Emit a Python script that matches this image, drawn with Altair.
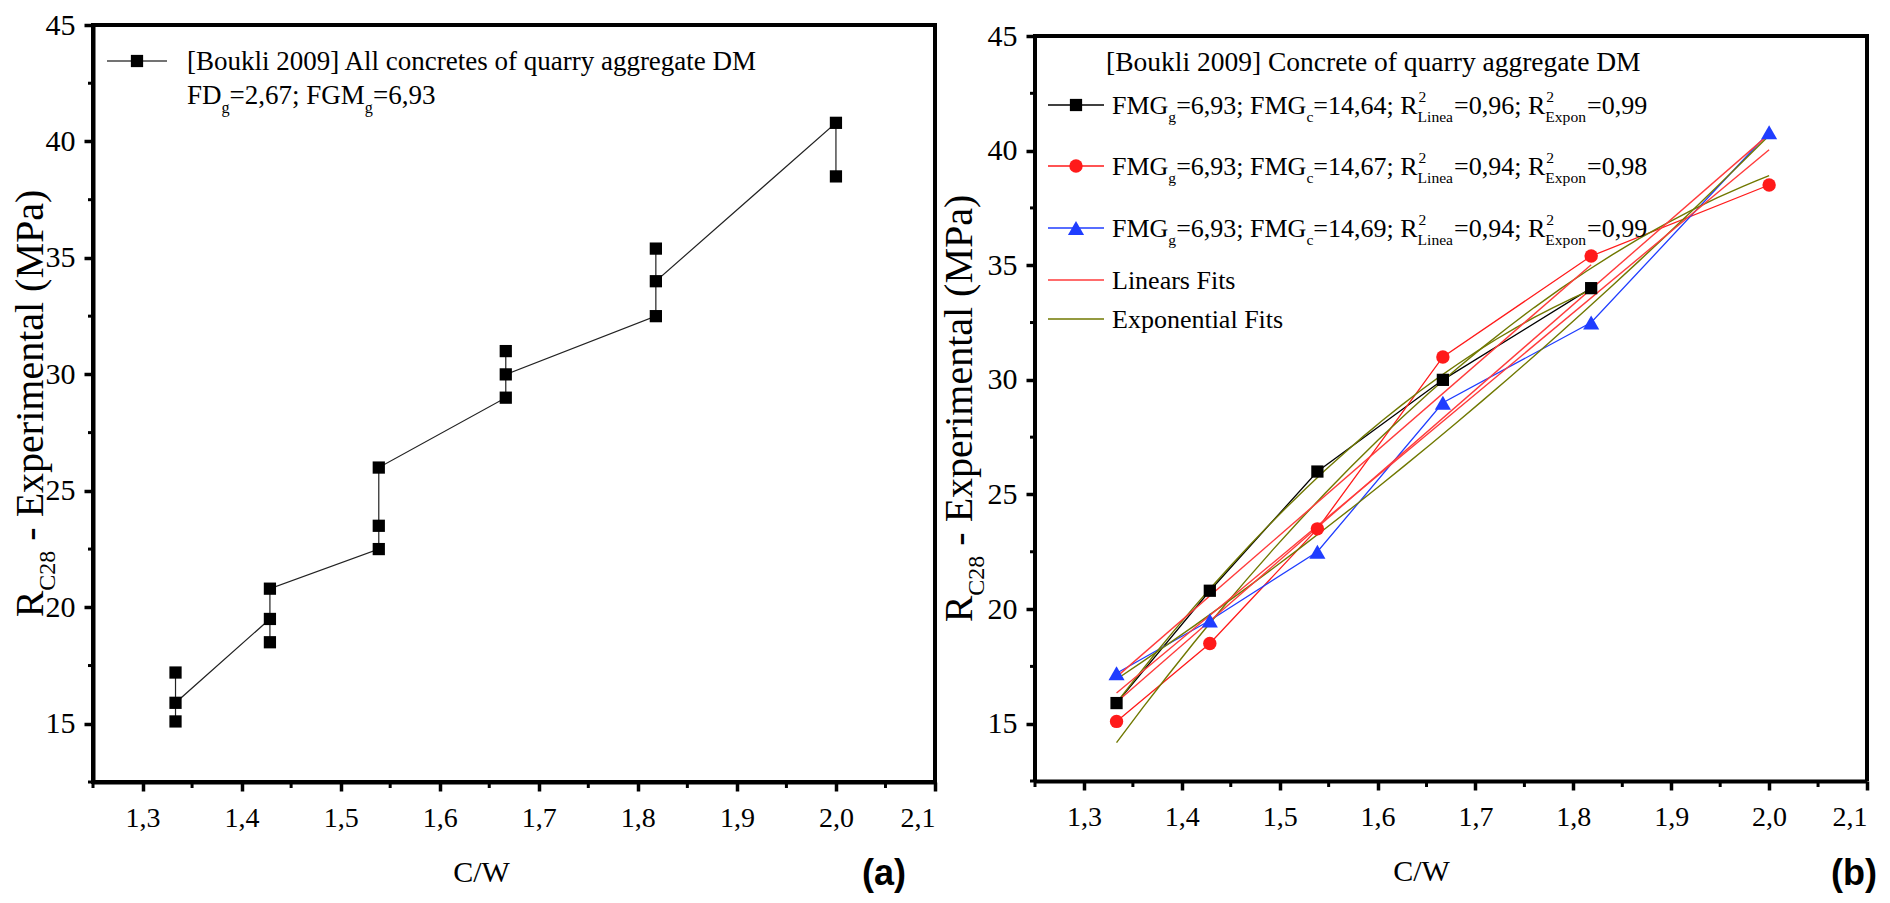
import altair as alt
import pandas as pd

# ---------------- data ----------------
CW = [1.3333, 1.4286, 1.5385, 1.6667, 1.8182, 2.0]
BLACK_Y = [15.9, 20.8, 26.0, 30.0, 34.0]
RED_Y = [15.1, 18.5, 23.5, 31.0, 35.4, 38.5]
BLUE_Y = [17.2, 19.5, 22.5, 29.0, 32.5, 40.8]

LEFT_X = [CW[0]] * 3 + [CW[1]] * 3 + [CW[2]] * 3 + [CW[3]] * 3 + [CW[4]] * 3 + [CW[5]] * 2
LEFT_Y = [15.1, 17.2, 15.9, 19.5, 18.5, 20.8, 22.5, 23.5, 26.0,
          29.0, 31.0, 30.0, 32.5, 35.4, 34.0, 40.8, 38.5]

X_TICKS = [1.3, 1.4, 1.5, 1.6, 1.7, 1.8, 1.9, 2.0, 2.1]
X_MINOR = [1.25, 1.35, 1.45, 1.55, 1.65, 1.75, 1.85, 1.95, 2.05]
Y_TICKS = [15, 20, 25, 30, 35, 40, 45]
Y_MINOR = [12.5, 17.5, 22.5, 27.5, 32.5, 37.5, 42.5]

LEFT_LEGEND_1 = "[Boukli 2009] All concretes of quarry aggregate DM"
LEFT_LEGEND_2 = [("n", "FD"), ("sub", "g"), ("n", "=2,67;"), ("gap", " "),
                 ("n", "FGM"), ("sub", "g"), ("n", "=6,93")]
RIGHT_TITLE = "[Boukli 2009] Concrete of quarry aggregate DM"
FMG_G = ["6,93", "6,93", "6,93"]
FMG_C = ["14,64", "14,67", "14,69"]
R2_LIN = ["0,96", "0,94", "0,94"]
R2_EXP = ["0,99", "0,98", "0,99"]
FIT_LABELS = ["Linears Fits", "Exponential Fits"]

RED = "#ff1a1a"
BLUE = "#1f3dff"
LINRED = "#ff3b3b"
OLIVE = "#707800"

# ---------------- text helpers (Times metrics) ----------------
TW = {' ': 250, '(': 333, ')': 333, ',': 250, '-': 333, '.': 250, '/': 278, ';': 278,
      '=': 564, '[': 333, ']': 333,
      'A': 722, 'B': 667, 'C': 667, 'D': 722, 'E': 611, 'F': 556, 'G': 722, 'L': 611,
      'M': 889, 'P': 556, 'R': 667, 'W': 944,
      'a': 444, 'c': 444, 'e': 444, 'f': 333, 'g': 500, 'i': 278, 'k': 500, 'l': 278,
      'm': 778, 'n': 500, 'o': 500, 'p': 500, 'q': 500, 'r': 333, 's': 389, 't': 278,
      'u': 500, 'x': 500, 'y': 500}


def tw(s, fs):
    return sum(TW.get(ch, 500) for ch in s) * fs / 1000.0


def rich_rows(pieces, x0, yc, fs):
    rows = []
    x = x0
    base = yc + 0.33 * fs
    sf = 0.6 * fs
    for kind, val in pieces:
        if kind == "n":
            rows.append({"px": x, "py": base, "t": val, "fs": fs})
            x += tw(val, fs)
        elif kind == "gap":
            x += tw(val, fs)
        elif kind == "sub":
            rows.append({"px": x, "py": base + 0.32 * fs, "t": val, "fs": sf})
            x += tw(val, sf)
        elif kind == "ss":
            sup, sub = val
            rows.append({"px": x + 1, "py": base - 0.45 * fs, "t": sup, "fs": sf})
            rows.append({"px": x, "py": base + 0.32 * fs, "t": sub, "fs": sf})
            x += max(tw(sup, sf), tw(sub, sf)) + 1
    return rows


def text_layer(rows, angle=None):
    kw = dict(align="left", baseline="alphabetic", font="Liberation Serif", color="black")
    if angle is not None:
        kw["angle"] = angle
    return alt.Chart(pd.DataFrame(rows)).mark_text(**kw).encode(
        x=alt.X("px:Q", scale=None),
        y=alt.Y("py:Q", scale=None),
        text="t:N",
        size=alt.Size("fs:Q", scale=None, legend=None),
    )


def ytitle_rows(bx, yc, S=40):
    sf = 0.6 * S
    L = tw("R", S) + tw("C28", sf) + tw(" ", S) + tw("- Experimental (MPa)", S)
    y0 = yc + L / 2
    rows = [{"px": bx, "py": y0, "t": "R", "fs": S}]
    y = y0 - tw("R", S)
    rows.append({"px": bx + 0.3 * S, "py": y, "t": "C28", "fs": sf})
    y -= tw("C28", sf) + tw(" ", S)
    rows.append({"px": bx, "py": y, "t": "- Experimental (MPa)", "fs": S})
    return rows


DUMMY = pd.DataFrame({"a": [0]})


def seg(x1, x2, y, color, w=1.5):
    return alt.Chart(DUMMY).mark_rule(color=color, strokeWidth=w).encode(
        x=alt.value(x1), x2=alt.value(x2), y=alt.value(y))


def vseg(x, y1, y2, color, w=4):
    return alt.Chart(DUMMY).mark_rule(color=color, strokeWidth=w).encode(
        x=alt.value(x), y=alt.value(y1), y2=alt.value(y2))


def sym(x, y, shape, color, size):
    return alt.Chart(DUMMY).mark_point(shape=shape, filled=True, size=size, color=color,
                                       opacity=1).encode(x=alt.value(x), y=alt.value(y))


xs = alt.Scale(domain=[1.25, 2.1], nice=False, zero=False)


def x_axis(title_x):
    return alt.Axis(values=X_TICKS, labelExpr="replace(format(datum.value, '.1f'), '.', ',')",
                    labelFontSize=28, labelPadding=13, tickSize=9,
                    title="C/W", titleFontSize=30, titleX=title_x, titleY=90,
                    titleBaseline="middle", titleAlign="center")


def y_axis(domain=True):
    return alt.Axis(values=Y_TICKS, format="d", labelFontSize=30, labelPadding=9, tickSize=9,
                    title=None, domain=domain)


def minor_layers(H, xax, ysc, yax):
    mx = alt.Chart(pd.DataFrame({"v": X_MINOR})).mark_rule(color="black", strokeWidth=3).encode(
        x=alt.X("v:Q", scale=xs, axis=xax), y=alt.value(H), y2=alt.value(H + 6))
    my = alt.Chart(pd.DataFrame({"v": Y_MINOR})).mark_rule(color="black", strokeWidth=3).encode(
        y=alt.Y("v:Q", scale=ysc, axis=yax), x=alt.value(0), x2=alt.value(-5))
    return [mx, my]


# ---------------- left panel ----------------
WL, HL = 842, 757
ys_l = alt.Scale(domain=[12.5, 45], nice=False, zero=False)
XAX_L = x_axis(388)
YAX_L = y_axis()
left_df = pd.DataFrame({"x": LEFT_X, "y": LEFT_Y, "o": list(range(len(LEFT_X)))})

left_line = alt.Chart(left_df).mark_line(color="#222222", strokeWidth=1.2).encode(
    x=alt.X("x:Q", scale=xs, axis=XAX_L),
    y=alt.Y("y:Q", scale=ys_l, axis=YAX_L),
    order="o:Q")
left_pts = alt.Chart(left_df).mark_point(shape="square", filled=True, size=150, color="black",
                                         opacity=1).encode(
    x=alt.X("x:Q", scale=xs, axis=XAX_L),
    y=alt.Y("y:Q", scale=ys_l, axis=YAX_L))

left_text_rows = [{"px": 94, "py": 36 + 0.33 * 27, "t": LEFT_LEGEND_1, "fs": 27}]
left_text_rows += rich_rows(LEFT_LEGEND_2, 94, 70, 27)

left_label = alt.Chart(DUMMY).mark_text(text="(a)", font="Liberation Sans", fontWeight="bold",
                                        fontSize=36, color="black", align="center",
                                        baseline="middle").encode(
    x=alt.value(791), y=alt.value(849))

left = alt.layer(
    left_line, left_pts,
    *minor_layers(HL, XAX_L, ys_l, YAX_L),
    seg(14, 74, 36, "#444444"), sym(44, 36, "square", "black", 150),
    text_layer(left_text_rows),
    text_layer(ytitle_rows(-50, HL / 2), angle=270),
    left_label,
).properties(width=WL, height=HL)

# ---------------- right panel ----------------
# frame starts 11 px lower than the left one; the scale keeps 45 at that frame top
OFF = 11
WR, HR = 832, 756
ys_r = alt.Scale(domain=[12.5, 45 + OFF * 32.5 / (HR - OFF)], nice=False, zero=False)
XAX_R = x_axis(386)
YAX_R = y_axis(domain=False)
blk = pd.DataFrame({"x": CW[:5], "y": BLACK_Y, "s": "k"})
red = pd.DataFrame({"x": CW, "y": RED_Y, "s": "r"})
blu = pd.DataFrame({"x": CW, "y": BLUE_Y, "s": "b"})
allr = pd.concat([blk, red, blu], ignore_index=True)

XR = alt.X("x:Q", scale=xs, axis=XAX_R)
YR = alt.Y("y:Q", scale=ys_r, axis=YAX_R)

lin_fit = alt.Chart(allr).transform_regression("x", "y", groupby=["s"], method="linear").mark_line(
    color=LINRED, strokeWidth=1.4).encode(x=XR, y=YR, detail="s:N")
exp_fit = alt.Chart(allr).transform_regression("x", "y", groupby=["s"], method="poly", order=2).mark_line(
    color=OLIVE, strokeWidth=1.4).encode(x=XR, y=YR, detail="s:N")


def series(df, color, shape, size):
    ln = alt.Chart(df).mark_line(color=color, strokeWidth=1.3).encode(x=XR, y=YR)
    pt = alt.Chart(df).mark_point(shape=shape, filled=True, size=size, color=color, opacity=1).encode(x=XR, y=YR)
    return ln, pt


bl, bp = series(blk, "black", "square", 150)
rl, rp = series(red, RED, "circle", 180)
ul, up = series(blu, BLUE, "triangle-up", 260)

ROW_Y = [v + OFF for v in [69, 130, 192, 244, 283]]
right_text_rows = [{"px": 71, "py": 26 + OFF + 0.33 * 27.5, "t": RIGHT_TITLE, "fs": 27.5}]
for i in range(3):
    pieces = [("n", "FMG"), ("sub", "g"), ("n", "=" + FMG_G[i] + ";"), ("gap", " "),
              ("n", "FMG"), ("sub", "c"), ("n", "=" + FMG_C[i] + ";"), ("gap", " "),
              ("n", "R"), ("ss", ("2", "Linea")), ("n", "=" + R2_LIN[i] + ";"), ("gap", " "),
              ("n", "R"), ("ss", ("2", "Expon")), ("n", "=" + R2_EXP[i])]
    right_text_rows += rich_rows(pieces, 77, ROW_Y[i], 26)
for j, lab in enumerate(FIT_LABELS):
    right_text_rows.append({"px": 77, "py": ROW_Y[3 + j] + 0.33 * 26, "t": lab, "fs": 26})

legend_right = [
    seg(13, 69, ROW_Y[0], "black"), sym(41, ROW_Y[0], "square", "black", 150),
    seg(13, 69, ROW_Y[1], RED), sym(41, ROW_Y[1], "circle", RED, 180),
    seg(13, 69, ROW_Y[2], BLUE), sym(41, ROW_Y[2], "triangle-up", BLUE, 260),
    seg(13, 69, ROW_Y[3], LINRED), seg(13, 69, ROW_Y[4], OLIVE),
]

frame_right = [
    seg(-2, WR + 2, OFF, "black", 4),
    vseg(0, OFF, HR, "black"),
    vseg(WR, OFF, HR, "black"),
]

right_label = alt.Chart(DUMMY).mark_text(text="(b)", font="Liberation Sans", fontWeight="bold",
                                         fontSize=36, color="black", align="center",
                                         baseline="middle").encode(
    x=alt.value(819), y=alt.value(849))

right = alt.layer(
    bl, rl, ul,
    *minor_layers(HR, XAX_R, ys_r, YAX_R),
    exp_fit, lin_fit,
    bp, rp, up,
    *frame_right,
    *legend_right,
    text_layer(right_text_rows),
    text_layer(ytitle_rows(-63, (OFF + HR) / 2), angle=270),
    right_label,
).properties(width=WR, height=HR, view=alt.ViewBackground(strokeOpacity=0))

chart = alt.hconcat(left, right, spacing=0).configure_view(
    stroke="black", strokeWidth=4
).configure_axis(
    labelFont="Liberation Serif", titleFont="Liberation Serif", labelColor="black",
    titleColor="black", tickColor="black", domainColor="black", domainWidth=4,
    tickWidth=3.5, titleFontWeight="normal", grid=False
).properties(
    padding={"left": 0, "top": 0, "right": 0, "bottom": 0}, background="white"
)

chart.save("out.html", embed_options={"renderer": "svg", "actions": False})
